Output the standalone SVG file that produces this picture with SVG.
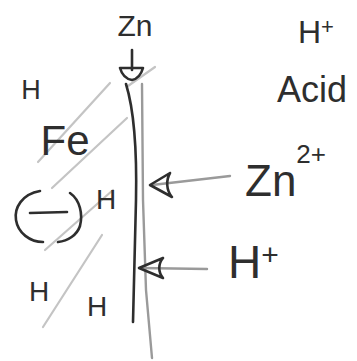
<svg xmlns="http://www.w3.org/2000/svg" width="357" height="361" viewBox="0 0 357 361">
<style>
.t{font-family:"Liberation Sans","DejaVu Sans",sans-serif;fill:#2e2e2e}
.ink{fill:none;stroke:#2e2e2e;stroke-width:2.6;stroke-linecap:round;stroke-linejoin:round}
.grey{fill:none;stroke:#9a9a9a;stroke-width:2.4;stroke-linecap:round;stroke-linejoin:round}
.faint{fill:none;stroke:#c4c4c4;stroke-width:2.2;stroke-linecap:round}
</style>
<rect width="357" height="361" fill="#ffffff"/>
<g id="hatching">
<path class="faint" d="M110,83 L38,162"/>
<path class="faint" d="M127,118 L52,188"/>
<path class="faint" d="M113,190 L45,250"/>
<path class="faint" d="M102,235 L43,327"/>
<path class="faint" d="M128,86 L155,67"/>
</g>
<g id="zinc-surface">
<path class="ink" d="M126,84 C134,110 137,150 136,200 L133,322"/>
<path class="grey" d="M142,84 L143,200 L146,290 L152,358"/>
</g>
<g id="zn-top">
<text class="t" x="135" y="36" font-size="30" text-anchor="middle">Zn</text>
</g>
<g id="h-plus-top">
<text class="t" x="298" y="43" font-size="32">H<tspan font-size="22" dy="-9">+</tspan></text>
</g>
<g id="acid">
<text class="t" x="312" y="102" font-size="36" text-anchor="middle">Acid</text>
</g>
<g id="h-1">
<text class="t" x="31" y="99" font-size="27" text-anchor="middle">H</text>
</g>
<g id="fe">
<text class="t" x="65" y="155" font-size="42" text-anchor="middle">Fe</text>
</g>
<g id="negative">
<path class="ink" d="M40,191 C22,194 14,208 16,220 C18,233 30,242 43,242"/>
<path class="ink" d="M70,193 C80,200 83,214 80,226 C77,235 68,241 58,242"/>
<path class="ink" d="M30,213 L67,212"/>
</g>
<g id="h-2">
<text class="t" x="106" y="209" font-size="28" text-anchor="middle">H</text>
</g>
<g id="h-3">
<text class="t" x="39" y="301" font-size="28" text-anchor="middle">H</text>
</g>
<g id="h-4">
<text class="t" x="97" y="316" font-size="28" text-anchor="middle">H</text>
</g>
<g id="zn-ion">
<text class="t" x="245" y="196" font-size="44">Zn<tspan font-size="26" dy="-33">2+</tspan></text>
</g>
<g id="h-plus-ion">
<text class="t" x="228" y="278" font-size="46">H<tspan font-size="30" dy="-13">+</tspan></text>
</g>
<g id="connectors">
<path class="ink" d="M132,50 L132,70"/>
<path class="ink" d="M120,68 L143,68 C141,75 137,79 132,80 C126,79 122,75 120,68 Z" fill="none"/>
<path class="grey" stroke="#7a7a7a" d="M230,176 L152,185"/>
<path class="ink" d="M170,173 L150,185 L172,197 C166,190 166,180 170,173"/>
<path class="grey" stroke="#7a7a7a" d="M207,269 L140,268"/>
<path class="ink" d="M163,258 L139,268 L163,278 C158,272 158,264 163,258"/>
</g>
</svg>
